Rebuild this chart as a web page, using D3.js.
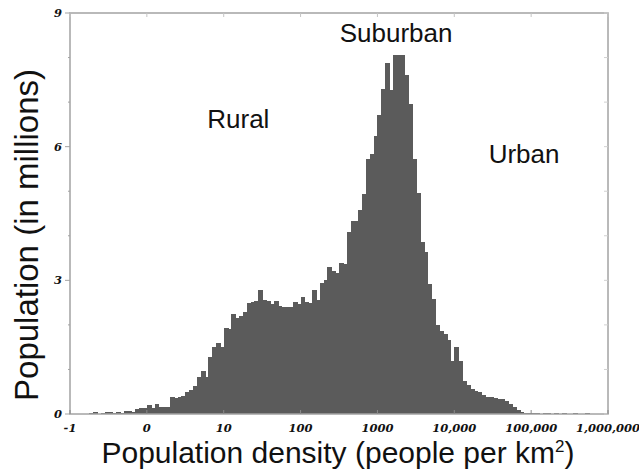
<!DOCTYPE html>
<meta charset="utf-8">
<html>
<head>
  <title>Population density histogram</title>
  <style>
    body { margin: 0; background: #fff; }
    svg { width: 639px; height: 472px; display: block; }
    .bar { shape-rendering: crispEdges; }
    .tick-label {
      font-family: 'DejaVu Serif', serif;
      font-weight: bold;
      font-style: italic;
      font-size: 11.5px;
      fill: #111;
    }
    .axis-title, .region {
      font-family: 'Liberation Sans', Arial, sans-serif;
      fill: #111;
    }
  </style>
  <script src="https://d3js.org/d3.v7.min.js"></script>
</head>
<body>
  <svg></svg>
  <script>
    // histogram bins: 20 per decade of density, starting at 10^-1
    var binLogStart = -1;
    var binLogWidth = 0.05;
    // population in each bin (millions)
    var populationMillions = [
      0, 0, 0.01, 0, 0.01, 0.02, 0.04, 0.01, 0.02, 0.05,
      0.04, 0.02, 0.05, 0.02, 0.06, 0.07, 0.05, 0.12, 0.13, 0.13,
      0.21, 0.14, 0.23, 0.15, 0.15, 0.16, 0.38, 0.35, 0.38, 0.40,
      0.49, 0.53, 0.62, 0.83, 0.96, 0.83, 1.27, 1.50, 1.59, 1.50,
      1.93, 1.90, 2.25, 2.16, 2.21, 2.28, 2.49, 2.51, 2.53, 2.79,
      2.55, 2.53, 2.47, 2.53, 2.43, 2.40, 2.40, 2.40, 2.51, 2.47,
      2.62, 2.51, 2.49, 2.79, 2.56, 2.93, 3.01, 3.31, 3.22, 3.17,
      3.38, 3.37, 4.08, 4.34, 4.34, 4.57, 4.94, 5.73, 5.84, 6.25,
      6.70, 7.30, 7.87, 7.28, 8.05, 8.05, 8.05, 7.60, 6.96, 5.73,
      4.96, 3.86, 3.63, 2.92, 2.58, 1.99, 1.87, 1.80, 1.65, 1.20,
      1.50, 1.20, 0.75, 0.64, 0.57, 0.52, 0.49, 0.42, 0.39, 0.38,
      0.37, 0.34, 0.33, 0.30, 0.23, 0.15, 0.10, 0.05, 0.03, 0.03,
      0.02, 0.02, 0.01, 0.02, 0.02, 0.01, 0.02, 0.01, 0.02, 0.01,
      0.01, 0.02, 0.01, 0.01, 0.02, 0.01, 0, 0, 0, 0
    ];

    var densityTicks = [0.1, 1, 10, 100, 1000, 1e4, 1e5, 1e6];
    var densityTickLabels = ["-1", "0", "10", "100", "1000", "10,000", "100,000", "1,000,000"];
    var popTicks = [0, 3, 6, 9];
    var popMinorTicks = [1, 2, 4, 5, 7, 8];

    var regionNames = ["Rural", "Suburban", "Urban"];
    var regionDensity = [15.5, 1750, 81000];
    var regionPop = [6.42, 8.35, 5.63];

    var svg = d3.select("svg");
    var margin = {top: 13, right: 31, bottom: 58, left: 70};
    var width = 639 - margin.left - margin.right;
    var height = 472 - margin.top - margin.bottom;

    var x = d3.scaleLog().domain([0.1, 1e6]).range([0, width]);
    var y = d3.scaleLinear().domain([0, 9]).range([height, 0]);

    var g = svg.append("g")
      .attr("transform", "translate(" + margin.left + "," + margin.top + ")");

    // bars
    var bins = populationMillions.map(function(v, i) {
      var lo = binLogStart + i * binLogWidth;
      return {x0: Math.pow(10, lo), x1: Math.pow(10, lo + binLogWidth), value: v};
    });

    g.selectAll(".bar")
      .data(bins)
      .enter().append("rect")
        .attr("class", "bar")
        .attr("x", function(d) { return x(d.x0); })
        .attr("width", function(d) { return x(d.x1) - x(d.x0) + 1; })
        .attr("y", function(d) { return y(d.value); })
        .attr("height", function(d) { return height - y(d.value); })
        .attr("fill", "#5b5b5b");

    // frame
    var frameColor = "#a3a3a3";
    g.append("rect")
      .attr("width", width).attr("height", height)
      .attr("fill", "none")
      .attr("stroke", frameColor)
      .attr("stroke-width", 1.5);

    // left axis ticks
    g.selectAll(".ytick")
      .data(popTicks)
      .enter().append("line")
        .attr("x1", -5).attr("x2", 0)
        .attr("y1", function(d) { return y(d); })
        .attr("y2", function(d) { return y(d); })
        .attr("stroke", frameColor);
    g.selectAll(".yminor")
      .data(popMinorTicks)
      .enter().append("line")
        .attr("x1", -2).attr("x2", 0)
        .attr("y1", function(d) { return y(d); })
        .attr("y2", function(d) { return y(d); })
        .attr("stroke", frameColor);
    // right axis ticks (inward)
    g.selectAll(".rtick")
      .data(popTicks.concat(popMinorTicks))
      .enter().append("line")
        .attr("x1", width - 4).attr("x2", width)
        .attr("y1", function(d) { return y(d); })
        .attr("y2", function(d) { return y(d); })
        .attr("stroke", "#d0d0d0");
    // top and bottom ticks
    g.selectAll(".ttick")
      .data(densityTicks)
      .enter().append("line")
        .attr("x1", function(d) { return x(d); })
        .attr("x2", function(d) { return x(d); })
        .attr("y1", 0).attr("y2", 4)
        .attr("stroke", "#c4c4c4");
    g.selectAll(".btick")
      .data(densityTicks)
      .enter().append("line")
        .attr("x1", function(d) { return x(d); })
        .attr("x2", function(d) { return x(d); })
        .attr("y1", height).attr("y2", height - 4)
        .attr("stroke", "#8a8a8a");

    // tick labels
    g.selectAll(".ylabel")
      .data(popTicks)
      .enter().append("text")
        .attr("class", "tick-label")
        .attr("x", -8)
        .attr("y", function(d) { return y(d); })
        .attr("dy", "0.35em")
        .attr("text-anchor", "end")
        .text(function(d) { return d; });

    g.selectAll(".xlabel")
      .data(densityTicks)
      .enter().append("text")
        .attr("class", "tick-label")
        .attr("x", function(d) { return x(d); })
        .attr("y", height + 18)
        .attr("text-anchor", "middle")
        .text(function(d, i) { return densityTickLabels[i]; });

    // axis titles
    var xTitle = svg.append("text")
      .attr("class", "axis-title")
      .attr("x", 338)
      .attr("y", 463)
      .attr("text-anchor", "middle")
      .style("font-size", "30px");
    xTitle.append("tspan").text("Population density (people per km");
    xTitle.append("tspan").attr("dy", -11).style("font-size", "17px").text("2");
    xTitle.append("tspan").attr("dy", 11).text(")");

    svg.append("text")
      .attr("class", "axis-title")
      .attr("transform", "translate(38,235) rotate(-90)")
      .attr("text-anchor", "middle")
      .style("font-size", "33px")
      .text("Population (in millions)");

    // region labels
    g.selectAll(".region")
      .data(regionNames)
      .enter().append("text")
        .attr("class", "region")
        .attr("x", function(d, i) { return x(regionDensity[i]); })
        .attr("y", function(d, i) { return y(regionPop[i]); })
        .attr("text-anchor", "middle")
        .style("font-size", "26px")
        .text(function(d) { return d; });
  </script>
</body>
</html>
